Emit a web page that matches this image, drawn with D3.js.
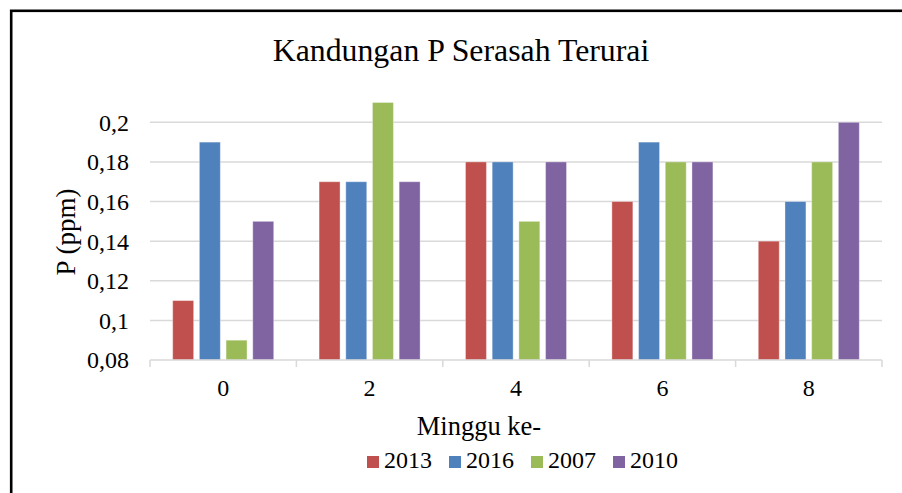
<!DOCTYPE html>
<html>
<head>
<meta charset="utf-8">
<script src="https://cdn.jsdelivr.net/npm/d3@7"></script>
<style>
  body { margin: 0; background: #fff; }
  svg { display: block; font-family: "Liberation Serif", "Times New Roman", serif; }
</style>
</head>
<body>
<div id="container"></div>
<script>
var weeks = ["0", "2", "4", "6", "8"];
var seriesNames = ["2013", "2016", "2007", "2010"];
var s2013 = [0.11, 0.17, 0.18, 0.16, 0.14];
var s2016 = [0.19, 0.17, 0.18, 0.19, 0.16];
var s2007 = [0.09, 0.21, 0.15, 0.18, 0.18];
var s2010 = [0.15, 0.17, 0.18, 0.18, 0.20];
var yTicks = [0.08, 0.1, 0.12, 0.14, 0.16, 0.18, 0.2];

var seriesValues = [s2013, s2016, s2007, s2010];
var colours = ["#C0504D", "#4F81BD", "#9BBB59", "#8064A2"];

var width = 902,
	height = 493,
	plotLeft = 150,
	plotRight = 882,
	plotTop = 82.7,
	plotBottom = 360;

var svg = d3.select("#container")
	.append("svg")
		.attr("width", width)
		.attr("height", height);

// frame (runs off the right and bottom edges like the source)
svg.append("rect")
	.attr("x", 11.2).attr("y", 10.8)
	.attr("width", 980).attr("height", 560)
	.attr("fill", "none")
	.attr("stroke", "#000")
	.attr("stroke-width", 2.6);

var yScale = d3.scaleLinear()
	.domain([0.08, 0.22])
	.range([plotBottom, plotTop]);

var xScale = d3.scaleBand()
	.domain(weeks)
	.range([plotLeft, plotRight])
	.padding(0);

var bw = xScale.bandwidth();
var xInner = d3.scaleBand()
	.domain(seriesNames)
	.range([bw * 0.155, bw * 0.845])
	.paddingInner(0.215);

var fmt = function(d) { return String(+d.toFixed(2)).replace(".", ","); };

// gridlines
svg.append("g")
	.selectAll("line")
	.data(yTicks.slice(1))
	.enter().append("line")
		.attr("x1", plotLeft).attr("x2", plotRight)
		.attr("y1", function(d) { return yScale(d); })
		.attr("y2", function(d) { return yScale(d); })
		.attr("stroke", "#D9D9D9")
		.attr("stroke-width", 1.5);

// y labels
svg.append("g")
	.selectAll("text")
	.data(yTicks)
	.enter().append("text")
		.attr("x", 129)
		.attr("y", function(d) { return yScale(d); })
		.attr("dy", "0.35em")
		.attr("text-anchor", "end")
		.attr("font-size", "24px")
		.text(fmt);

// bars
var groups = svg.append("g")
	.selectAll("g")
	.data(weeks)
	.enter().append("g")
		.attr("transform", function(d) { return "translate(" + xScale(d) + ",0)"; });

groups.selectAll("rect")
	.data(function(d, i) {
		return seriesNames.map(function(s, j) { return { s: s, v: seriesValues[j][i], c: colours[j] }; });
	})
	.enter().append("rect")
		.attr("x", function(d) { return xInner(d.s); })
		.attr("width", xInner.bandwidth())
		.attr("y", function(d) { return yScale(d.v); })
		.attr("height", function(d) { return plotBottom - yScale(d.v); })
		.attr("fill", function(d) { return d.c; })
		.attr("stroke", "#fff")
		.attr("stroke-opacity", 0.35)
		.attr("stroke-width", 1);

// x axis line and ticks
svg.append("line")
	.attr("x1", plotLeft).attr("x2", plotRight)
	.attr("y1", plotBottom).attr("y2", plotBottom)
	.attr("stroke", "#D9D9D9")
	.attr("stroke-width", 1.5);

svg.append("g")
	.selectAll("line")
	.data(weeks.concat(["end"]))
	.enter().append("line")
		.attr("x1", function(d, i) { return plotLeft + i * bw; })
		.attr("x2", function(d, i) { return plotLeft + i * bw; })
		.attr("y1", plotBottom).attr("y2", plotBottom + 7)
		.attr("stroke", "#D9D9D9")
		.attr("stroke-width", 1.5);

svg.append("g")
	.selectAll("text")
	.data(weeks)
	.enter().append("text")
		.attr("x", function(d) { return xScale(d) + bw / 2; })
		.attr("y", 396)
		.attr("text-anchor", "middle")
		.attr("font-size", "24px")
		.text(function(d) { return d; });

// titles
svg.append("text")
	.attr("x", 461).attr("y", 61)
	.attr("text-anchor", "middle")
	.attr("font-size", "31.8px")
	.text("Kandungan P Serasah Terurai");

svg.append("text")
	.attr("x", 479).attr("y", 435)
	.attr("text-anchor", "middle")
	.attr("font-size", "26.5px")
	.text("Minggu ke-");

svg.append("text")
	.attr("transform", "translate(75,232) rotate(-90)")
	.attr("text-anchor", "middle")
	.attr("font-size", "27px")
	.text("P (ppm)");

// legend
var legend = svg.append("g")
	.selectAll("g")
	.data(seriesNames)
	.enter().append("g")
		.attr("transform", function(d, i) { return "translate(" + (367 + i * 82) + ",456)"; });

legend.append("rect")
	.attr("width", 12).attr("height", 12)
	.attr("fill", function(d, i) { return colours[i]; });

legend.append("text")
	.attr("x", 17).attr("y", 12.3)
	.attr("font-size", "24px")
	.text(function(d) { return d; });
</script>
</body>
</html>
